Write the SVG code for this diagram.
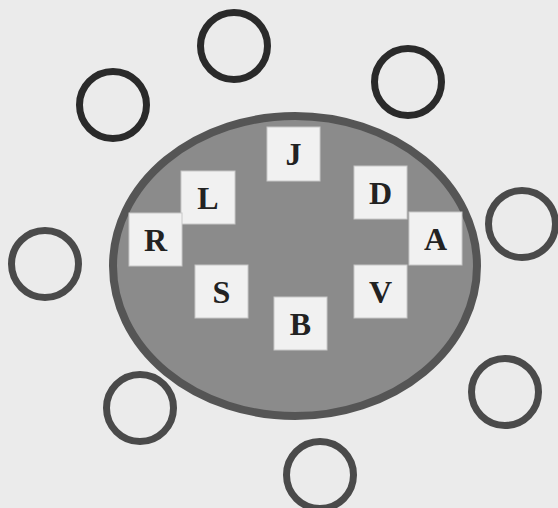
<svg xmlns="http://www.w3.org/2000/svg" width="558" height="508" viewBox="0 0 558 508">
<style>
.ring{fill:none;stroke:#2a2a2a;stroke-width:7}
.ring2{fill:none;stroke:#4a4a4a;stroke-width:7}
.box{fill:#f1f1f1;stroke:#c8c8c8;stroke-width:1}
.lbl{font-family:"Liberation Serif","Times New Roman",serif;font-weight:bold;font-size:32px;fill:#222;text-anchor:middle}
</style>
<rect width="558" height="508" fill="#ebebeb"/>
<g id="cell">
<ellipse cx="295" cy="266" rx="182" ry="150" fill="#8b8b8b" stroke="#555" stroke-width="8"/>
</g>
<g id="connectors"/>
<g id="ring1"><circle class="ring" cx="234" cy="46" r="33.5"/></g>
<g id="ring2"><circle class="ring" cx="113" cy="105" r="33.5"/></g>
<g id="ring3"><circle class="ring" cx="408" cy="82" r="33.5"/></g>
<g id="ring4"><circle class="ring2" cx="45" cy="264" r="33.5"/></g>
<g id="ring5"><circle class="ring2" cx="522" cy="224" r="33.5"/></g>
<g id="ring6"><circle class="ring2" cx="140" cy="408" r="33.5"/></g>
<g id="ring7"><circle class="ring2" cx="505" cy="392" r="33.5"/></g>
<g id="ring8"><circle class="ring2" cx="320" cy="475" r="33.5"/></g>
<g id="J"><rect class="box" x="267" y="127" width="53" height="54"/><text class="lbl" x="293.5" y="165">J</text></g>
<g id="L"><rect class="box" x="181" y="171" width="54" height="53"/><text class="lbl" x="208" y="209">L</text></g>
<g id="R"><rect class="box" x="129" y="213" width="53" height="53"/><text class="lbl" x="155.5" y="251">R</text></g>
<g id="D"><rect class="box" x="354" y="166" width="53" height="53"/><text class="lbl" x="380.5" y="204">D</text></g>
<g id="A"><rect class="box" x="409" y="212" width="53" height="53"/><text class="lbl" x="435.5" y="250">A</text></g>
<g id="S"><rect class="box" x="195" y="265" width="53" height="53"/><text class="lbl" x="221.5" y="303">S</text></g>
<g id="B"><rect class="box" x="274" y="297" width="53" height="53"/><text class="lbl" x="300.5" y="335">B</text></g>
<g id="V"><rect class="box" x="354" y="265" width="53" height="53"/><text class="lbl" x="380.5" y="303">V</text></g>
</svg>
